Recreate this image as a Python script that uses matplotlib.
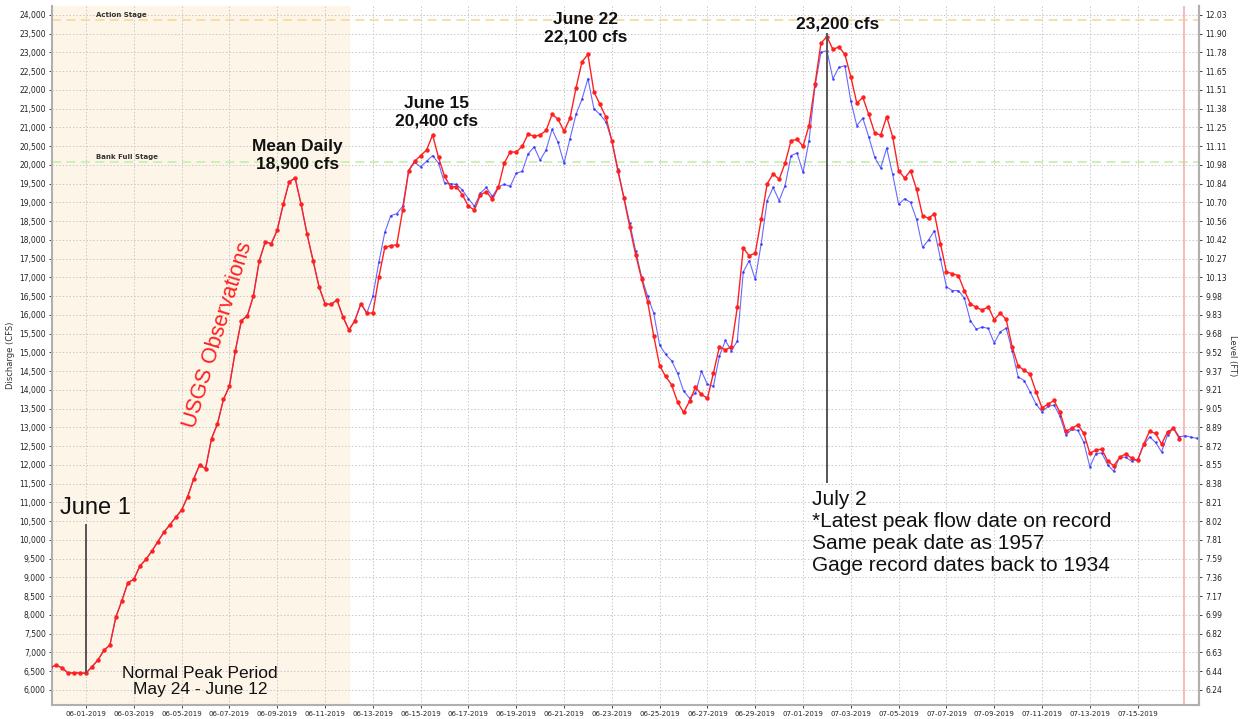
import numpy as np
import pandas as pd
import matplotlib
matplotlib.use("Agg")
import matplotlib.pyplot as plt
import matplotlib.dates as mdates

# discharge (cfs), 6-hourly, starting 2019-05-30 12:00
obs_start = "2019-05-30 12:00"
discharge_obs = [
    6600, 6660, 6590, 6450, 6460, 6450,                     # May 30-31
    6450, 6620, 6800, 7060,                                 # Jun 1
    7200, 7950, 8380, 8860,                                 # Jun 2
    8950, 9300, 9480, 9700,                                 # Jun 3
    9950, 10200, 10400, 10600,                              # Jun 4
    10800, 11150, 11620, 12000,                             # Jun 5
    11900, 12700, 13100, 13750,                             # Jun 6
    14100, 15050, 15850, 15980,                             # Jun 7
    16500, 17450, 17950, 17900,                             # Jun 8
    18260, 18950, 19550, 19650,                             # Jun 9
    18950, 18150, 17450, 16750,                             # Jun 10
    16300, 16280, 16400, 15950,                             # Jun 11
    15600, 15850, 16300, 16050,                             # Jun 12
    16050, 17000, 17800, 17850,                             # Jun 13
    17870, 18800, 19850, 20100,                             # Jun 14
    20250, 20400, 20800, 20200,                             # Jun 15
    19700, 19420, 19420, 19200,                             # Jun 16
    18900, 18800, 19200, 19290,                             # Jun 17
    19080, 19400, 20050, 20350,                             # Jun 18
    20340, 20500, 20830, 20760,                             # Jun 19
    20800, 20920, 21350, 21220,                             # Jun 20
    20900, 21250, 22050, 22750,                             # Jun 21
    22950, 21950, 21620, 21280,                             # Jun 22
    20650, 19850, 19130, 18350,                             # Jun 23
    17600, 16950, 16350, 15450,                             # Jun 24
    14650, 14360, 14140, 13680,                             # Jun 25
    13400, 13700, 14070, 13880,                             # Jun 26
    13780, 14450, 15150, 15070,                             # Jun 27
    15150, 16200, 17780, 17580,                             # Jun 28
    17650, 18550, 19500, 19760,                             # Jun 29
    19620, 20050, 20650, 20680,                             # Jun 30
    20500, 21050, 22150, 23250,                             # Jul 1
    23420, 23080, 23150, 22950,                             # Jul 2
    22350, 21650, 21800, 21350,                             # Jul 3
    20850, 20800, 21290, 20750,                             # Jul 4
    19850, 19650, 19850, 19350,                             # Jul 5
    18650, 18580, 18700, 17900,                             # Jul 6
    17150, 17100, 17050, 16650,                             # Jul 7
    16300, 16200, 16130, 16220,                             # Jul 8
    15870, 16050, 15880, 15150,                             # Jul 9
    14640, 14530, 14420, 13950,                             # Jul 10
    13520, 13620, 13720, 13400,                             # Jul 11
    12900, 12980, 13070, 12840,                             # Jul 12
    12310, 12400, 12420, 12100,                             # Jul 13
    11980, 12200, 12300, 12180,                             # Jul 14
    12120, 12550, 12900, 12840,                             # Jul 15
    12560, 12880, 12980, 12700,                             # Jul 16
]

# instantaneous discharge, 6-hourly from 2019-06-13 00:00
# (same as the observed series before that)
inst_start = "2019-06-13 00:00"
discharge_inst_late = [
    16500, 17400, 18200, 18650,                             # Jun 13
    18700, 18900, 19850, 20070,                             # Jun 14
    19950, 20100, 20250, 20050,                             # Jun 15
    19520, 19500, 19480, 19330,                             # Jun 16
    19100, 18900, 19250, 19400,                             # Jun 17
    19160, 19420, 19480, 19430,                             # Jun 18
    19780, 19830, 20300, 20480,                             # Jun 19
    20130, 20400, 20950, 20600,                             # Jun 20
    20050, 20700, 21350, 21750,                             # Jun 21
    22300, 21500, 21350, 21150,                             # Jun 22
    20650, 19900, 19150, 18450,                             # Jun 23
    17700, 17000, 16500, 16050,                             # Jun 24
    15200, 14950, 14780, 14450,                             # Jun 25
    13980, 13780, 13920, 14500,                             # Jun 26
    14150, 14100, 14900, 15320,                             # Jun 27
    15050, 15300, 17150, 17450,                             # Jun 28
    16950, 17900, 19050, 19400,                             # Jun 29
    19050, 19450, 20250, 20320,                             # Jun 30
    19800, 20650, 22100, 23000,                             # Jul 1
    23050, 22300, 22600, 22650,                             # Jul 2
    21700, 21050, 21250, 20750,                             # Jul 3
    20200, 19920, 20450, 19750,                             # Jul 4
    18950, 19100, 19000, 18550,                             # Jul 5
    17800, 18000, 18250, 17500,                             # Jul 6
    16750, 16650, 16650, 16450,                             # Jul 7
    15850, 15620, 15680, 15640,                             # Jul 8
    15250, 15550, 15650, 15050,                             # Jul 9
    14350, 14250, 13950, 13620,                             # Jul 10
    13420, 13560, 13600, 13300,                             # Jul 11
    12800, 12950, 12920, 12600,                             # Jul 12
    11950, 12300, 12320, 12000,                             # Jul 13
    11830, 12220, 12200, 12100,                             # Jul 14
    12150, 12520, 12750, 12600,                             # Jul 15
    12350, 12800, 12980, 12750,                             # Jul 16
    12780, 12740, 12710,                                    # Jul 17
]

# right axis: stage (ft) for each discharge gridline, 24,000 down to 6,000
stage_labels = [
    "12.03", "11.90", "11.78", "11.65", "11.51", "11.38", "11.25", "11.11",
    "10.98", "10.84", "10.70", "10.56", "10.42", "10.27", "10.13", "9.98",
    "9.83", "9.68", "9.52", "9.37", "9.21", "9.05", "8.89", "8.72", "8.55",
    "8.38", "8.21", "8.02", "7.81", "7.59", "7.36", "7.17", "6.99", "6.82",
    "6.63", "6.44", "6.24",
]
flow_ticks = list(range(24000, 5999, -500))

action_stage = 23867
bank_full = 20080

plt.rcParams["font.family"] = ["DejaVu Sans"]

t_obs = pd.date_range(obs_start, periods=len(discharge_obs), freq="6h")
n_early = int((pd.Timestamp(inst_start) - pd.Timestamp(obs_start)) / pd.Timedelta("6h"))
discharge_inst = discharge_obs[:n_early] + discharge_inst_late
t_inst = pd.date_range(obs_start, periods=len(discharge_inst), freq="6h")

fig = plt.figure(figsize=(12.41, 7.19), dpi=100)
ax = fig.add_axes([0.0419, 0.0195, 0.9243, 0.9722])

x0 = pd.Timestamp("2019-05-30 13:50")
x1 = pd.Timestamp("2019-07-17 13:40")
ax.set_xlim(x0, x1)
ax.set_ylim(5600, 24240)

# normal peak period shading
ax.axvspan(x0, pd.Timestamp("2019-06-12 00:00"), color="#fdf5e7", zorder=0)

ax.set_yticks(flow_ticks)
ax.set_yticklabels([f"{v:,}" for v in flow_ticks])
ticks = pd.date_range("2019-06-01", "2019-07-15", freq="2D")
ax.set_xticks(ticks)
ax.xaxis.set_major_formatter(mdates.DateFormatter("%m-%d-%Y"))
ax.grid(True, color="#c8c8c8", linestyle=(0, (1.5, 2)), linewidth=0.7, zorder=1)
ax.tick_params(axis="y", labelsize=5.5, length=2.5, width=0.6,
               colors="#222222", pad=2)
ax.tick_params(axis="x", labelsize=5.0, length=2.5, width=0.6,
               colors="#222222", pad=2)

ax.spines["top"].set_visible(False)
for side in ["left", "right", "bottom"]:
    ax.spines[side].set_color("#b0b0b0")
    ax.spines[side].set_linewidth(1.5)

# stage reference lines
ax.axhline(action_stage, color="#fbd9a3", linestyle=(0, (5, 3)), linewidth=1.3, zorder=2)
ax.axhline(bank_full, color="#c9efb3", linestyle=(0, (5, 3)), linewidth=1.3, zorder=2)
ax.text(pd.Timestamp("2019-06-01 10:00"), action_stage + 60, "Action Stage",
        fontsize=5, fontweight="bold", color="#333333", va="bottom")
ax.text(pd.Timestamp("2019-06-01 10:00"), bank_full + 60, "Bank Full Stage",
        fontsize=5, fontweight="bold", color="#333333", va="bottom")

# current time marker
ax.axvline(pd.Timestamp("2019-07-16 22:30"), color="#f7bcbc", linewidth=1.4, zorder=2)

# observations
ax.plot(t_inst, discharge_inst, color="#2a2aff", linewidth=0.8, alpha=0.7,
        marker=".", markersize=2, zorder=3)
ax.plot(t_obs, discharge_obs, color="#ff2020", linewidth=1.0, marker="o",
        markersize=3.2, markeredgewidth=0, zorder=4)

ax.set_ylabel("Discharge (CFS)", fontsize=6, color="#333333")
ax.yaxis.set_label_coords(-0.032, 0.5)

ax2 = ax.twinx()
ax2.set_ylim(ax.get_ylim())
ax2.set_yticks(flow_ticks)
ax2.set_yticklabels(stage_labels)
ax2.tick_params(axis="y", labelsize=5.5, length=2.5, width=0.6, colors="#222222", pad=2)
for side in ["top", "left", "bottom"]:
    ax2.spines[side].set_visible(False)
ax2.spines["right"].set_color("#b0b0b0")
ax2.spines["right"].set_linewidth(1.5)
ax2.set_ylabel("Level (FT)", fontsize=6, color="#333333", rotation=270, va="center")
ax2.yaxis.set_label_coords(1.029, 0.5)

# annotations
sans = ["Liberation Sans", "DejaVu Sans"]
ax.plot([pd.Timestamp("2019-06-01 00:00")] * 2, [6480, 10400], color="#555555",
        linewidth=1.4, zorder=6)
ax.text(pd.Timestamp("2019-06-01 09:00"), 10850, "June 1", family=sans,
        fontsize=17, ha="center", va="center", color="#111111")
ax.text(pd.Timestamp("2019-06-05 18:30"), 6230, "Normal Peak Period\nMay 24 - June 12",
        family=sans, fontsize=12.5, ha="center", va="center", color="#111111",
        linespacing=1.05)
ax.text(pd.Timestamp("2019-06-06 12:30"), 15470, "USGS Observations", family=sans,
        fontsize=15.5, ha="center", va="center", color="#ff2020", rotation=73)
ax.text(pd.Timestamp("2019-06-09 20:00"), 20270, "Mean Daily\n18,900 cfs", family=sans,
        fontsize=12.5, fontweight="bold", ha="center", va="center", color="#111111",
        linespacing=1.2)
ax.text(pd.Timestamp("2019-06-15 15:30"), 21410, "June 15\n20,400 cfs", family=sans,
        fontsize=12.5, fontweight="bold", ha="center", va="center", color="#111111",
        linespacing=1.2)
ax.text(pd.Timestamp("2019-06-21 22:00"), 23650, "June 22\n22,100 cfs", family=sans,
        fontsize=12.5, fontweight="bold", ha="center", va="center", color="#111111",
        linespacing=1.2)
ax.text(pd.Timestamp("2019-07-02 11:00"), 23760, "23,200 cfs", family=sans,
        fontsize=12.5, fontweight="bold", ha="center", va="center", color="#111111")
ax.plot([pd.Timestamp("2019-07-02 00:00")] * 2, [11550, 23500], color="#555555",
        linewidth=1.4, zorder=6)
ax.text(pd.Timestamp("2019-07-01 09:00"), 11330,
        "July 2\n*Latest peak flow date on record\nSame peak date as 1957\n"
        "Gage record dates back to 1934",
        family=sans, fontsize=15, ha="left", va="top", color="#111111", linespacing=1.2)

fig.savefig("out.png", dpi=100)
